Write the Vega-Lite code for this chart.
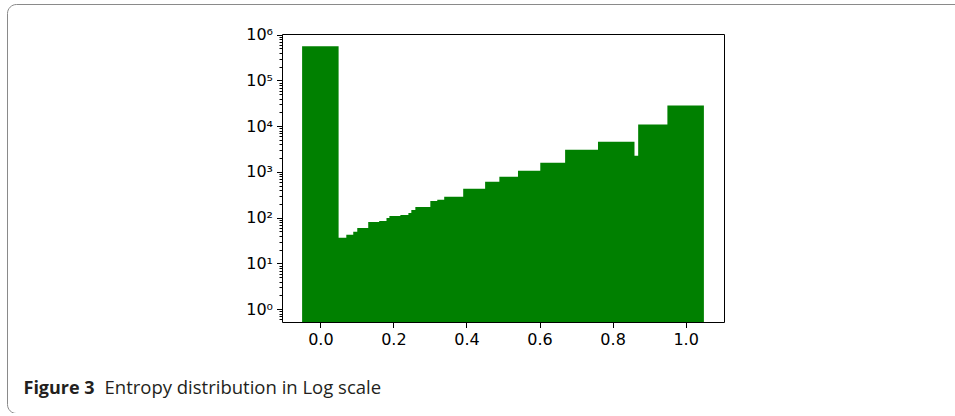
{
  "$schema": "https://vega.github.io/schema/vega-lite/v6.json",
  "width": 957,
  "height": 409,
  "autosize": {"type": "none"},
  "padding": {"left": 7, "top": 4, "right": -9, "bottom": 0},
  "background": "white",
  "config": {
    "view": {"stroke": "#8a8a8a", "strokeWidth": 1, "cornerRadius": 9, "fill": "white"}
  },
  "data": {
    "values": [
      {"entropy": 0.0, "count": 560000},
      {"entropy": 0.055, "count": 36.6},
      {"entropy": 0.121, "count": 42.6},
      {"entropy": 0.140, "count": 49.5},
      {"entropy": 0.151, "count": 59.7},
      {"entropy": 0.181, "count": 80.9},
      {"entropy": 0.211, "count": 85.1},
      {"entropy": 0.231, "count": 99},
      {"entropy": 0.239, "count": 109},
      {"entropy": 0.269, "count": 115},
      {"entropy": 0.291, "count": 127},
      {"entropy": 0.299, "count": 148},
      {"entropy": 0.310, "count": 172},
      {"entropy": 0.351, "count": 233},
      {"entropy": 0.370, "count": 246},
      {"entropy": 0.389, "count": 286},
      {"entropy": 0.441, "count": 428},
      {"entropy": 0.501, "count": 609},
      {"entropy": 0.540, "count": 785},
      {"entropy": 0.591, "count": 1062},
      {"entropy": 0.652, "count": 1590},
      {"entropy": 0.720, "count": 3070},
      {"entropy": 0.810, "count": 4590},
      {"entropy": 0.860, "count": 2265},
      {"entropy": 0.920, "count": 10840},
      {"entropy": 1.0, "count": 28200}
    ]
  },
  "layer": [
    {
      "mark": {"type": "bar", "color": "#008000", "size": 36.5},
      "encoding": {
        "x": {
          "field": "entropy",
          "type": "quantitative",
          "scale": {"domain": [-0.105, 1.105], "range": [275, 717], "nice": false, "zero": false, "padding": 0},
          "axis": {
            "orient": "bottom",
            "offset": -91,
            "values": [0, 0.2, 0.4, 0.6, 0.8, 1.0],
            "format": ".1f",
            "grid": false,
            "domainColor": "black",
            "domainWidth": 1,
            "tickColor": "black",
            "tickSize": 5.5,
            "tickWidth": 1,
            "labelFont": "DejaVu Sans",
            "labelFontSize": 16,
            "labelColor": "black",
            "labelPadding": 4,
            "labelFlush": false,
            "labelOverlap": false,
            "title": "Entropy distribution in Log scale",
            "titleFont": "Open Sans",
            "titleFontSize": 18.5,
            "titleFontWeight": "normal",
            "titleColor": "#231f20",
            "titleX": 97,
            "titleY": 71,
            "titleAlign": "left",
            "titleAnchor": "start",
            "titleBaseline": "alphabetic",
            "titleAngle": 0
          }
        },
        "y": {
          "field": "count",
          "type": "quantitative",
          "scale": {"type": "log", "domain": [0.526, 1036000], "range": [318, 30], "nice": false},
          "axis": {
            "orient": "left",
            "offset": -275,
            "values": [0.6, 0.7, 0.8, 0.9, 1, 2, 3, 4, 5, 6, 7, 8, 9, 10, 20, 30, 40, 50, 60, 70, 80, 90, 100, 200, 300, 400, 500, 600, 700, 800, 900, 1000, 2000, 3000, 4000, 5000, 6000, 7000, 8000, 9000, 10000, 20000, 30000, 40000, 50000, 60000, 70000, 80000, 90000, 100000, 200000, 300000, 400000, 500000, 600000, 700000, 800000, 900000, 1000000],
            "labelExpr": "abs(log(datum.value)/LN10 - round(log(datum.value)/LN10)) < 1e-6 ? '10' + ['⁰','¹','²','³','⁴','⁵','⁶'][round(log(datum.value)/LN10)] : ''",
            "grid": false,
            "domainColor": "black",
            "domainWidth": 1,
            "tickColor": "black",
            "tickWidth": 1,
            "tickSize": {"condition": {"test": "abs(log(datum.value)/LN10 - round(log(datum.value)/LN10)) < 1e-6", "value": 5.5}, "value": 3},
            "labelFont": "DejaVu Sans",
            "labelFontSize": 16,
            "labelColor": "black",
            "labelPadding": 4,
            "labelFlush": false,
            "labelOverlap": false,
            "labelBaseline": "middle",
            "title": null
          }
        },
        "y2": {"datum": 0.526}
      }
    },
    {
      "mark": {"type": "point", "opacity": 0},
      "encoding": {
        "x": {
          "field": "entropy",
          "type": "quantitative",
          "scale": {"domain": [-0.105, 1.105], "range": [275, 717], "nice": false, "zero": false, "padding": 0},
          "axis": {
            "orient": "top",
            "offset": -30,
            "ticks": false,
            "labels": false,
            "grid": false,
            "domainColor": "black",
            "domainWidth": 1,
            "title": "Figure 3",
            "titleFont": "Open Sans",
            "titleFontSize": 18,
            "titleFontWeight": "bold",
            "titleColor": "#231f20",
            "titleX": 16,
            "titleY": 359,
            "titleAlign": "left",
            "titleAnchor": "start",
            "titleBaseline": "alphabetic",
            "titleAngle": 0
          }
        },
        "y": {
          "field": "count",
          "type": "quantitative",
          "scale": {"type": "log", "domain": [0.526, 1036000], "range": [318, 30], "nice": false},
          "axis": {
            "orient": "right",
            "offset": -240,
            "ticks": false,
            "labels": false,
            "grid": false,
            "domainColor": "black",
            "domainWidth": 1,
            "title": null
          }
        }
      }
    }
  ],
  "resolve": {"axis": {"x": "independent", "y": "independent"}}
}
